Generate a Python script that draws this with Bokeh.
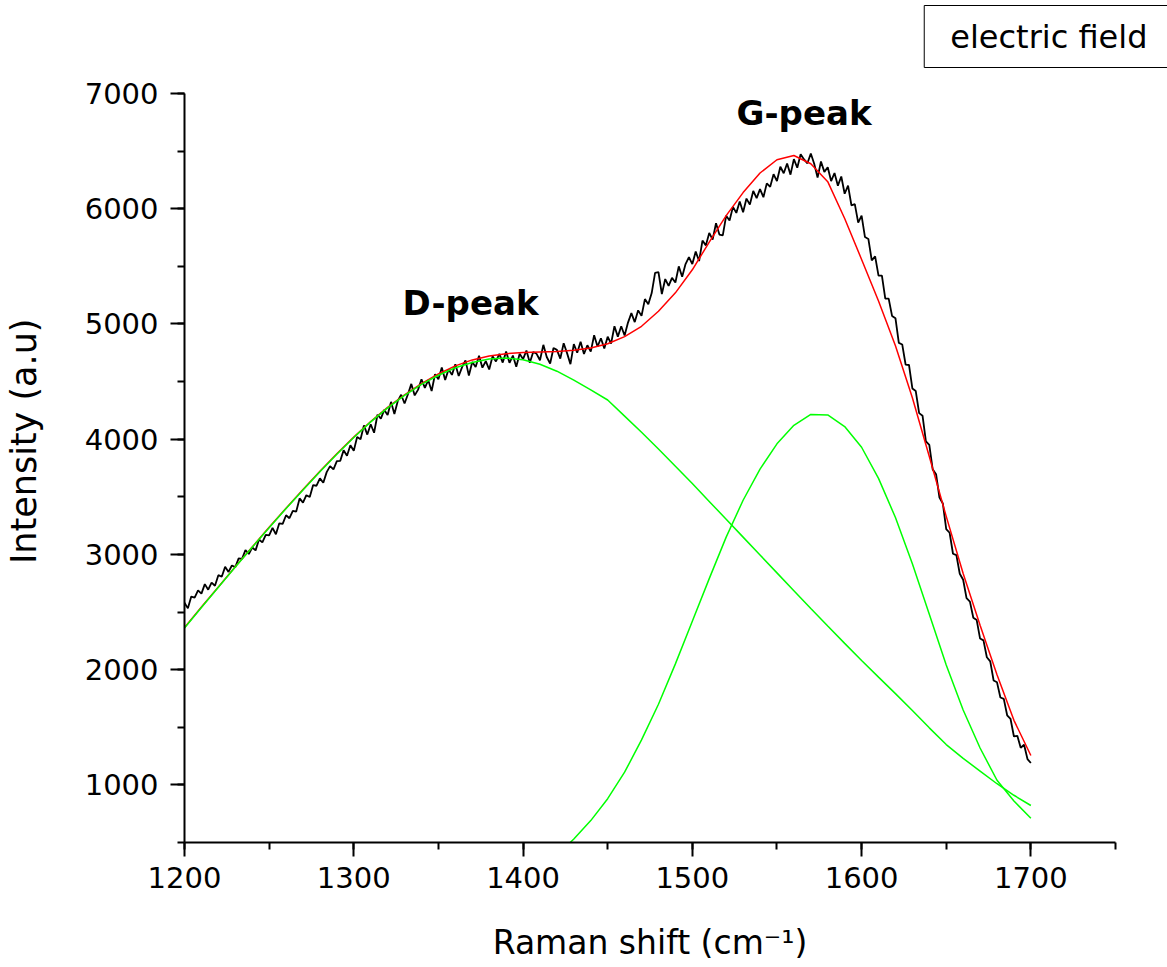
from bokeh.plotting import figure
from bokeh.models import Range1d, SingleIntervalTicker, Label, Title
from bokeh.embed import file_html
from bokeh.resources import INLINE

# ---- data ----
raman_x = list(range(1200, 1701, 2))
raman_intensity = [
    2580, 2532, 2634, 2626, 2688, 2660, 2742, 2694, 2756, 2728,
    2820, 2806, 2892, 2848, 2904, 2890, 2966, 2962, 3038, 3004,
    3060, 3035, 3130, 3105, 3170, 3165, 3230, 3175, 3270, 3265,
    3340, 3314, 3378, 3372, 3486, 3450, 3514, 3498, 3602, 3596,
    3660, 3622, 3714, 3766, 3738, 3810, 3812, 3904, 3856, 3948,
    3900, 4020, 4000, 4120, 4040, 4130, 4056, 4212, 4178, 4254,
    4210, 4324, 4218, 4332, 4386, 4310, 4390, 4480, 4380, 4430,
    4520, 4446, 4512, 4418, 4564, 4520, 4622, 4514, 4606, 4558,
    4650, 4548, 4626, 4684, 4552, 4670, 4627, 4724, 4621, 4678,
    4605, 4720, 4675, 4740, 4665, 4760, 4663, 4726, 4629, 4742,
    4695, 4769, 4663, 4757, 4741, 4685, 4819, 4713, 4657, 4791,
    4775, 4699, 4833, 4747, 4651, 4825, 4750, 4845, 4740, 4815,
    4760, 4902, 4804, 4876, 4788, 4890, 4830, 4980, 4890, 4980,
    4900, 5012, 5094, 5016, 5118, 5070, 5216, 5172, 5268, 5444,
    5450, 5260, 5390, 5330, 5400, 5360, 5500, 5410, 5520, 5580,
    5520, 5628, 5546, 5724, 5682, 5790, 5732, 5874, 5776, 5768,
    5940, 5898, 6016, 5964, 6062, 5970, 6088, 6036, 6154, 6092,
    6170, 6100, 6220, 6190, 6300, 6240, 6364, 6308, 6392, 6296,
    6430, 6356, 6472, 6428, 6394, 6480, 6390, 6270, 6410, 6320,
    6360, 6240, 6310, 6200, 6280, 6130, 6200, 6030, 6040, 5880,
    5940, 5754, 5738, 5552, 5586, 5420, 5420, 5220, 5220, 5070,
    5050, 4836, 4822, 4648, 4644, 4440, 4418, 4226, 4204, 3982,
    3950, 3738, 3696, 3494, 3442, 3220, 3188, 3006, 2994, 2832,
    2780, 2620, 2590, 2450, 2430, 2270, 2254, 2108, 2072, 1906,
    1890, 1758, 1746, 1604, 1572, 1420, 1426, 1322, 1348, 1224,
    1190,
]

fit_x = list(range(1200, 1701, 10))
fit_total = [
    2365, 2543, 2718, 2893, 3065, 3235, 3401, 3563, 3721, 3873,
    4018, 4153, 4276, 4385, 4482, 4566, 4636, 4688, 4722, 4742,
    4752, 4757, 4762, 4772, 4792, 4828, 4890, 4980, 5110, 5270,
    5470, 5710, 5940, 6140, 6310, 6425, 6462, 6390, 6235, 5915,
    5560, 5200, 4810, 4360, 3850, 3330, 2835, 2385, 1955, 1560,
    1255,
]
d_peak_fit = [
    2361, 2540, 2715, 2890, 3062, 3232, 3398, 3560, 3718, 3870,
    4015, 4150, 4272, 4380, 4475, 4555, 4620, 4665, 4695, 4705,
    4690, 4650, 4590, 4512, 4428, 4340, 4200, 4060, 3915, 3765,
    3615, 3460, 3305, 3150, 2995, 2840, 2685, 2530, 2378, 2228,
    2080, 1935, 1792, 1645, 1495, 1350, 1230, 1120, 1010, 910,
    821,
]
g_x = list(range(1420, 1701, 10))
g_peak_fit = [
    390, 530, 690, 880, 1110, 1390, 1700, 2050, 2420, 2790,
    3150, 3470, 3740, 3960, 4120, 4215, 4210, 4110, 3930, 3660,
    3320, 2920, 2480, 2040, 1650, 1320, 1040, 860, 711,
]

x_ticks_interval = 100
y_ticks_interval = 1000

FONT = "DejaVu Sans"

p = figure(width=1167, height=967,
           x_range=Range1d(1200, 1750), y_range=Range1d(500, 7000),
           output_backend="svg", toolbar_location=None,
           min_border_left=184, min_border_right=52,
           min_border_top=93, min_border_bottom=125)
p.outline_line_color = None
p.xgrid.visible = False
p.ygrid.visible = False
p.background_fill_color = "white"
p.border_fill_color = "white"

p.line(raman_x, raman_intensity, line_color="black", line_width=1.8)
p.line(fit_x, fit_total, line_color="#ff0000", line_width=1.5)
p.line(fit_x, d_peak_fit, line_color="#00ff00", line_width=1.5)
p.line(g_x, g_peak_fit, line_color="#00ff00", line_width=1.5)

p.xaxis.ticker = SingleIntervalTicker(interval=x_ticks_interval, num_minor_ticks=2)
p.yaxis.ticker = SingleIntervalTicker(interval=y_ticks_interval, num_minor_ticks=2)

for ax in (p.xaxis[0], p.yaxis[0]):
    ax.axis_line_color = "black"
    ax.axis_line_width = 2
    ax.major_tick_line_color = "black"
    ax.major_tick_line_width = 2
    ax.minor_tick_line_color = "black"
    ax.minor_tick_line_width = 2
    ax.major_tick_in = 0
    ax.major_tick_out = 14
    ax.minor_tick_in = 0
    ax.minor_tick_out = 7
    ax.major_label_text_font = FONT
    ax.major_label_text_font_size = "29px"
    ax.major_label_text_color = "black"
    ax.axis_label_text_font = FONT
    ax.axis_label_text_font_size = "33px"
    ax.axis_label_text_font_style = "normal"
    ax.axis_label_text_color = "black"

p.xaxis.major_label_standoff = 10
p.yaxis.major_label_standoff = 12
p.xaxis.axis_label = "Raman shift (cm\u207b\u00b9)"
p.xaxis.axis_label_standoff = 32

# left side: spacer next to the axis, then the y-axis title
left_spacer = Title(text="\u00a0", text_font=FONT, text_font_size="10px",
                    standoff=25)
p.add_layout(left_spacer, "left")
ylab = Title(text="Intensity (a.u)", align="right", offset=225,
             vertical_align="bottom",
             text_font=FONT, text_font_size="35px", text_font_style="normal",
             text_color="black", standoff=0)
p.add_layout(ylab, "left")

# top side: spacer next to the frame, then the boxed legend (plot title)
top_spacer = Title(text="\u00a0", text_font=FONT, text_font_size="10px",
                   standoff=13)
p.add_layout(top_spacer, "above")

p.add_layout(Label(x=1369, y=5186, text="D-peak", text_align="center",
                   text_baseline="alphabetic", text_font=FONT,
                   text_font_size="34px", text_font_style="bold",
                   text_color="black"))
p.add_layout(Label(x=1566, y=6827, text="G-peak", text_align="center",
                   text_baseline="alphabetic", text_font=FONT,
                   text_font_size="34px", text_font_style="bold",
                   text_color="black"))

p.title.text = "electric field"
p.title.align = "right"
p.title.offset = -58
p.title.standoff = 0
p.title.text_font = FONT
p.title.text_font_size = "32px"
p.title.text_font_style = "normal"
p.title.text_color = "black"
p.title.border_line_color = "black"
p.title.border_line_width = 1
p.title.background_fill_color = "white"
p.title.padding = (26, 12)

open("out.html", "w").write(file_html(p, INLINE))
